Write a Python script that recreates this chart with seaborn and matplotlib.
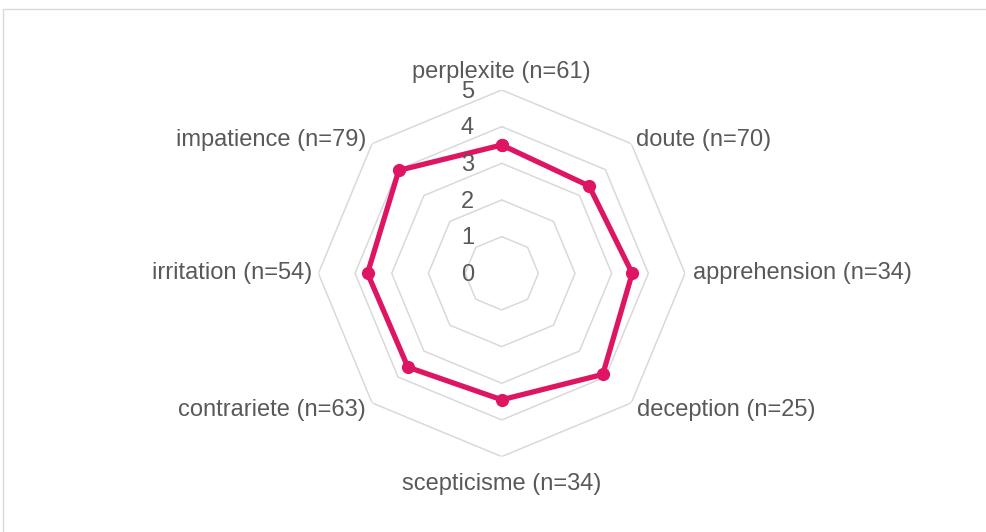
import numpy as np
import pandas as pd
import matplotlib
matplotlib.use("Agg")
import matplotlib.pyplot as plt
import seaborn as sns
from matplotlib.patches import Rectangle

# Emotions (clockwise from the top), sample sizes and mean scores
emotions = ["perplexite", "doute", "apprehension", "deception",
            "scepticisme", "contrariete", "irritation", "impatience"]
counts = [61, 70, 34, 25, 34, 63, 54, 79]
scores = [3.50, 3.37, 3.56, 3.90, 3.45, 3.62, 3.66, 3.97]
ring_levels = [0, 1, 2, 3, 4, 5]

sns.set_theme(style="white")
plt.rcParams["font.family"] = ["Liberation Sans", "DejaVu Sans"]

TEXT = "#595959"
GRID = "#D9D9D9"
LINE = "#DE1562"
FS = 17

W, H = 986, 532
fig = plt.figure(figsize=(W / 100, H / 100), dpi=100)
fig.patch.set_facecolor("white")

# light chart-area frame
fig.add_artist(Rectangle((3 / W, -0.1), 1.2, 0.1 + 1 - 9 / H,
                         transform=fig.transFigure, fill=False,
                         ec=GRID, lw=1.0))

cx, cy, R = 501.7, 273.3, 183.3
ax = fig.add_axes([(cx - R) / W, (H - cy - R) / H, 2 * R / W, 2 * R / H],
                  projection="polar")
ax.set_theta_offset(np.pi / 2)
ax.set_theta_direction(-1)
ax.grid(False)
ax.spines["polar"].set_visible(False)
ax.patch.set_alpha(0)

n = len(emotions)
angles = np.arange(n) * 2 * np.pi / n
closed = np.append(angles, 2 * np.pi)

# octagonal rings
for lv in ring_levels[1:]:
    ax.plot(closed, [lv] * (n + 1), color=GRID, lw=1.1, zorder=1)

df = pd.DataFrame({"angle": closed, "score": scores + scores[:1]})
sns.lineplot(data=df, x="angle", y="score", sort=False, estimator=None,
             ax=ax, color=LINE, lw=3.8, marker="o", markersize=9.5,
             markeredgewidth=0, zorder=3)

ax.set_ylim(0, 5)
ax.set_xticks([])
ax.set_yticks([])
ax.set_xlabel("")
ax.set_ylabel("")

# radial value labels
for lv in ring_levels:
    ax.annotate(str(lv), xy=(0, lv), xytext=(-20, -1.2),
                textcoords="offset points", ha="right", va="center",
                fontsize=FS, color=TEXT, zorder=4)

# category labels around the outer ring
placement = [
    ("center", (0, 13.2)),
    ("left", (3.6, 2.7)),
    ("left", (5.8, 0)),
    ("left", (4.1, -5)),
    ("center", (0, -19.5)),
    ("right", (-4.3, -5)),
    ("right", (-4.6, 0)),
    ("right", (-4.3, 2.7)),
]
for ang, name, cnt, (ha, off) in zip(angles, emotions, counts, placement):
    ax.annotate(f"{name} (n={cnt})", xy=(ang, 5), xytext=off,
                textcoords="offset points", ha=ha, va="center",
                fontsize=FS, color=TEXT, annotation_clip=False)

fig.savefig("out.png", dpi=100, facecolor="white")
